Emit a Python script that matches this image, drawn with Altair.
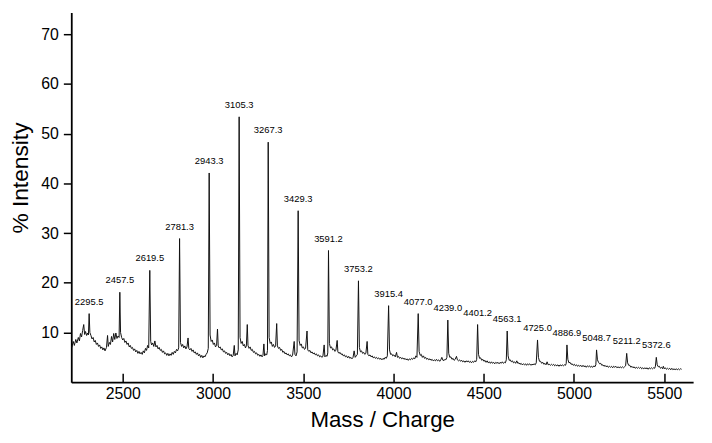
import altair as alt
import pandas as pd

# ---------------- data ----------------
x_ticks = [2500, 3000, 3500, 4000, 4500, 5000, 5500]
y_ticks = [10, 20, 30, 40, 50, 60, 70]

peak_labels = ["2295.5", "2457.5", "2619.5", "2781.3", "2943.3", "3105.3", "3267.3",
               "3429.3", "3591.2", "3753.2", "3915.4", "4077.0", "4239.0", "4401.2",
               "4563.1", "4725.0", "4886.9", "5048.7", "5211.2", "5372.6"]
peak_mz = [2314, 2484, 2650, 2815, 2979, 3145, 3306, 3472, 3640, 3806,
           3973, 4137, 4301, 4466, 4630, 4798, 4961, 5125, 5292, 5456]
peak_int = [13.8, 18.1, 22.5, 28.9, 42.1, 53.4, 48.3, 34.5, 26.5, 20.4,
            15.4, 13.8, 12.5, 11.6, 10.3, 8.5, 7.5, 6.5, 5.8, 5.0]

spectrum = [
    (2218, 7.0), (2226, 8.2), (2232, 7.4), (2240, 8.6), (2246, 7.9), (2254, 9.0), (2260, 8.3),
    (2266, 9.8), (2272, 9.1), (2278, 10.4), (2284, 11.6), (2289, 9.6), (2294, 10.2), (2300, 9.4),
    (2306, 9.9), (2310, 9.5), (2314, 13.8), (2318, 10.0), (2324, 9.4), (2330, 8.7), (2336, 9.0),
    (2342, 8.1), (2348, 8.4), (2354, 7.6), (2360, 7.9), (2366, 7.2), (2372, 7.5), (2378, 6.8),
    (2384, 7.1), (2390, 6.5), (2396, 6.9), (2402, 6.3), (2410, 7.0), (2416, 9.4), (2420, 7.2),
    (2426, 8.0), (2432, 7.6), (2438, 9.2), (2444, 8.1), (2450, 9.8), (2456, 8.6), (2462, 9.9),
    (2468, 8.8), (2474, 9.3), (2480, 9.0), (2484, 18.1), (2488, 10.0), (2494, 9.0), (2500, 8.5),
    (2506, 8.8), (2512, 8.0), (2518, 8.3), (2524, 7.6), (2530, 7.9), (2536, 7.1), (2542, 7.4),
    (2548, 6.8), (2554, 7.0), (2560, 6.4), (2566, 6.7), (2572, 6.1), (2578, 6.4), (2584, 5.8),
    (2590, 6.2), (2596, 5.7), (2602, 6.0), (2608, 5.6), (2614, 6.3), (2620, 5.9), (2626, 6.8),
    (2632, 6.4), (2638, 7.4), (2644, 6.9), (2650, 22.5), (2655, 8.2), (2660, 7.5), (2666, 7.9),
    (2672, 7.2), (2678, 8.3), (2684, 7.1), (2690, 7.4), (2696, 6.7), (2702, 7.0), (2708, 6.4),
    (2714, 6.6), (2720, 6.0), (2726, 6.3), (2732, 5.7), (2738, 5.9), (2744, 5.4), (2750, 5.8),
    (2756, 5.3), (2762, 5.7), (2768, 5.4), (2774, 6.0), (2780, 5.6), (2786, 6.2), (2792, 5.9),
    (2798, 6.6), (2804, 6.3), (2810, 6.9), (2815, 28.9), (2820, 8.0), (2826, 7.2), (2832, 7.6),
    (2838, 6.9), (2844, 7.3), (2850, 6.7), (2856, 7.1), (2862, 8.9), (2866, 6.8), (2872, 6.5),
    (2878, 6.8), (2884, 6.2), (2890, 6.5), (2896, 5.9), (2902, 6.1), (2908, 5.6), (2914, 5.9),
    (2920, 5.3), (2926, 5.6), (2932, 5.0), (2938, 5.4), (2944, 4.9), (2950, 5.3), (2956, 5.1),
    (2962, 5.6), (2968, 5.9), (2974, 6.8), (2979, 42.1), (2984, 9.5), (2990, 8.2), (2996, 8.5),
    (3002, 7.6), (3008, 7.9), (3014, 7.1), (3020, 7.4), (3025, 10.7), (3029, 7.3), (3034, 6.9),
    (3040, 7.1), (3046, 6.5), (3052, 6.7), (3058, 6.1), (3064, 6.3), (3070, 5.8), (3076, 6.0),
    (3082, 5.5), (3088, 5.8), (3094, 5.3), (3100, 5.6), (3106, 5.1), (3112, 5.4), (3118, 7.4),
    (3122, 5.3), (3128, 5.8), (3134, 5.5), (3140, 6.5), (3145, 53.4), (3150, 9.0), (3156, 7.8),
    (3162, 8.2), (3168, 7.3), (3174, 7.6), (3180, 6.9), (3185, 7.3), (3190, 11.6), (3194, 7.4),
    (3200, 6.8), (3206, 7.1), (3212, 6.4), (3218, 6.6), (3224, 6.0), (3230, 6.2), (3236, 5.7),
    (3242, 5.9), (3248, 5.4), (3254, 5.6), (3260, 5.2), (3266, 5.5), (3272, 5.1), (3277, 5.4),
    (3282, 7.7), (3286, 5.3), (3292, 5.7), (3298, 5.5), (3302, 6.4), (3306, 48.3), (3311, 9.0),
    (3317, 7.8), (3323, 8.1), (3329, 7.2), (3335, 7.6), (3341, 7.0), (3347, 7.3), (3353, 11.8),
    (3357, 7.3), (3363, 6.8), (3369, 7.0), (3375, 6.4), (3381, 6.6), (3387, 6.0), (3393, 6.2),
    (3399, 5.7), (3405, 5.9), (3411, 5.5), (3417, 5.7), (3423, 5.3), (3429, 5.5), (3435, 5.1),
    (3441, 5.4), (3450, 8.2), (3454, 5.6), (3460, 5.3), (3466, 6.1), (3472, 34.5), (3477, 8.4),
    (3483, 7.4), (3489, 7.7), (3495, 6.9), (3501, 7.1), (3507, 6.6), (3513, 6.8), (3521, 10.3),
    (3525, 6.5), (3531, 6.2), (3537, 6.4), (3543, 5.9), (3549, 6.1), (3555, 5.7), (3561, 5.9),
    (3567, 5.5), (3573, 5.7), (3579, 5.3), (3585, 5.5), (3591, 5.1), (3597, 5.3), (3603, 5.0),
    (3609, 5.2), (3616, 7.5), (3620, 5.1), (3626, 5.4), (3632, 5.2), (3636, 5.9), (3640, 26.5),
    (3645, 7.8), (3651, 6.9), (3657, 7.1), (3663, 6.5), (3669, 6.7), (3675, 6.2), (3681, 6.4),
    (3688, 8.4), (3692, 6.1), (3698, 5.8), (3704, 6.0), (3710, 5.6), (3716, 5.7), (3722, 5.3),
    (3728, 5.5), (3734, 5.1), (3740, 5.3), (3746, 4.9), (3752, 5.2), (3758, 4.8), (3764, 5.0),
    (3770, 4.7), (3776, 5.0), (3782, 6.3), (3788, 5.0), (3794, 5.3), (3800, 5.6), (3806, 20.4),
    (3811, 7.0), (3817, 6.1), (3823, 6.3), (3829, 5.8), (3835, 6.0), (3841, 5.6), (3847, 5.8),
    (3854, 8.2), (3858, 5.6), (3864, 5.3), (3870, 5.5), (3876, 5.1), (3882, 5.3), (3888, 4.9),
    (3894, 5.1), (3900, 4.8), (3906, 5.0), (3912, 4.7), (3918, 4.9), (3924, 4.6), (3930, 4.8),
    (3936, 4.5), (3942, 4.8), (3948, 4.6), (3954, 5.0), (3960, 4.8), (3966, 5.3), (3973, 15.4),
    (3978, 6.5), (3984, 5.6), (3990, 5.7), (3996, 5.3), (4002, 5.5), (4010, 5.1), (4017, 6.0),
    (4022, 5.0), (4028, 5.2), (4034, 4.8), (4040, 5.0), (4046, 4.7), (4052, 4.9), (4058, 4.6),
    (4064, 4.8), (4070, 4.5), (4076, 4.7), (4082, 4.4), (4088, 4.7), (4094, 4.5), (4100, 4.8),
    (4106, 4.6), (4112, 4.9), (4118, 4.7), (4124, 5.3), (4130, 5.0), (4137, 13.8), (4142, 6.2),
    (4148, 5.4), (4154, 5.6), (4160, 5.0), (4166, 5.3), (4172, 4.8), (4178, 5.0), (4184, 4.6),
    (4190, 4.8), (4196, 4.5), (4202, 4.7), (4208, 4.4), (4214, 4.6), (4220, 4.3), (4226, 4.5),
    (4232, 4.3), (4238, 4.6), (4244, 4.3), (4250, 4.5), (4256, 4.2), (4262, 4.5), (4268, 5.0),
    (4274, 4.4), (4280, 4.4), (4286, 4.6), (4290, 4.5), (4296, 5.0), (4301, 12.5), (4306, 5.8),
    (4312, 5.0), (4318, 5.1), (4324, 4.6), (4330, 4.8), (4336, 4.4), (4342, 4.6), (4349, 5.2),
    (4354, 4.5), (4360, 4.3), (4366, 4.5), (4372, 4.2), (4378, 4.4), (4384, 4.1), (4390, 4.3),
    (4396, 4.0), (4402, 4.3), (4408, 4.1), (4414, 4.3), (4420, 4.0), (4426, 4.2), (4432, 3.9),
    (4438, 4.2), (4444, 4.0), (4450, 4.3), (4456, 4.1), (4461, 4.6), (4466, 11.6), (4471, 5.6),
    (4477, 4.8), (4483, 4.9), (4489, 4.4), (4495, 4.6), (4501, 4.2), (4507, 4.4), (4513, 4.0),
    (4519, 4.3), (4525, 3.9), (4531, 4.1), (4537, 3.8), (4543, 4.1), (4549, 3.8), (4555, 4.0),
    (4561, 3.7), (4567, 4.0), (4573, 3.8), (4579, 4.0), (4585, 3.7), (4591, 4.0), (4597, 3.8),
    (4603, 4.1), (4609, 3.8), (4615, 4.0), (4620, 3.9), (4625, 4.5), (4630, 10.3), (4635, 5.3),
    (4641, 4.4), (4647, 4.5), (4653, 4.1), (4659, 4.3), (4665, 3.9), (4671, 4.1), (4677, 3.8),
    (4683, 4.3), (4689, 3.8), (4695, 3.9), (4701, 3.6), (4707, 3.8), (4713, 3.5), (4719, 3.7),
    (4725, 3.5), (4731, 3.7), (4737, 3.4), (4743, 3.7), (4749, 3.5), (4755, 3.7), (4761, 3.4),
    (4767, 3.6), (4773, 3.5), (4779, 3.7), (4785, 3.5), (4791, 3.9), (4798, 8.5), (4803, 5.0),
    (4809, 4.2), (4815, 4.2), (4821, 3.8), (4827, 4.0), (4833, 3.6), (4839, 3.8), (4845, 3.5),
    (4851, 4.1), (4857, 3.5), (4863, 3.6), (4869, 3.4), (4875, 3.6), (4881, 3.4), (4887, 3.6),
    (4893, 3.3), (4899, 3.5), (4905, 3.3), (4911, 3.5), (4917, 3.2), (4923, 3.5), (4929, 3.3),
    (4935, 3.5), (4941, 3.3), (4947, 3.5), (4953, 3.4), (4957, 3.8), (4961, 7.5), (4966, 4.6),
    (4972, 3.9), (4978, 4.0), (4984, 3.6), (4990, 3.7), (4996, 3.4), (5002, 3.6), (5008, 3.3),
    (5014, 3.5), (5020, 3.2), (5026, 3.4), (5032, 3.2), (5038, 3.4), (5044, 3.1), (5050, 3.4),
    (5056, 3.1), (5062, 3.3), (5068, 3.0), (5074, 3.3), (5080, 3.1), (5086, 3.3), (5092, 3.0),
    (5098, 3.2), (5104, 3.0), (5110, 3.3), (5116, 3.1), (5121, 3.5), (5125, 6.5), (5130, 4.5),
    (5136, 4.0), (5142, 3.7), (5148, 3.8), (5154, 3.4), (5160, 3.5), (5166, 3.2), (5172, 3.4),
    (5178, 3.1), (5184, 3.3), (5190, 3.0), (5196, 3.2), (5202, 3.0), (5208, 3.2), (5214, 2.9),
    (5220, 3.2), (5226, 3.0), (5232, 3.2), (5238, 2.9), (5244, 3.1), (5250, 2.9), (5256, 3.1),
    (5262, 2.9), (5268, 3.1), (5274, 2.9), (5280, 3.1), (5286, 3.3), (5292, 5.8), (5297, 3.9),
    (5303, 3.4), (5309, 3.4), (5315, 3.0), (5321, 3.2), (5327, 2.9), (5333, 3.1), (5339, 2.8),
    (5345, 3.0), (5351, 2.8), (5357, 3.0), (5363, 2.8), (5369, 3.0), (5375, 2.7), (5381, 2.9),
    (5387, 2.7), (5393, 2.9), (5399, 2.7), (5405, 2.9), (5411, 2.6), (5417, 2.9), (5423, 2.7),
    (5429, 2.9), (5435, 2.7), (5441, 2.9), (5447, 2.8), (5451, 3.2), (5456, 5.0), (5461, 3.5),
    (5467, 3.1), (5473, 3.2), (5479, 2.8), (5485, 3.0), (5491, 2.7), (5495, 3.2), (5500, 2.7),
    (5506, 2.9), (5512, 2.6), (5518, 2.8), (5524, 2.6), (5530, 2.8), (5536, 2.5), (5542, 2.8),
    (5548, 2.5), (5554, 2.7), (5560, 2.5), (5566, 2.7), (5572, 2.5), (5578, 2.7), (5584, 2.5),
    (5590, 2.7), (5596, 2.6),
]

# ---------------- chart ----------------
spec_df = pd.DataFrame(spectrum, columns=["mz", "intensity"])
peaks_df = pd.DataFrame({"mz": peak_mz, "intensity": peak_int, "label": peak_labels})

W, H = 629, 374
FONT = "Liberation Sans"
xscale = alt.Scale(domain=[2215, 5660], nice=False, zero=False)
yscale = alt.Scale(domain=[0, 74.4], nice=False, zero=False)

# x ticks point up into the plot: negative tick size passed as an expression
x_axis = alt.Axis(values=x_ticks, ticks=True, tickSize=alt.ExprRef("-9"), tickWidth=1.5,
                  tickColor="black", labelPadding=12,
                  labelFontSize=16, titleFontSize=22.5, titleY=45,
                  titleBaseline="alphabetic", format="d")
y_axis = alt.Axis(values=y_ticks, tickSize=8, tickWidth=1.5, tickColor="black",
                  labelPadding=5, labelFontSize=16, titleFontSize=23, titleAngle=270,
                  titleX=-51, titleY=167, titleAlign="center", titleBaseline="middle")

line = alt.Chart(spec_df).mark_line(color="#111111", strokeWidth=1).encode(
    x=alt.X("mz:Q", scale=xscale, title="Mass / Charge", axis=x_axis),
    y=alt.Y("intensity:Q", scale=yscale, title="% Intensity", axis=y_axis),
)

labels = alt.Chart(peaks_df).mark_text(
    font=FONT, fontSize=9.5, color="black", dy=-7, baseline="bottom", align="center"
).encode(
    x=alt.X("mz:Q", scale=xscale, title="Mass / Charge"),
    y=alt.Y("intensity:Q", scale=yscale, title="% Intensity"),
    text="label:N",
)

chart = alt.layer(line, labels).properties(
    width=W, height=H,
    autosize=alt.AutoSizeParams(type="none"),
    padding={"left": 64, "top": 2, "right": 11, "bottom": 59},
    background="white",
).configure_view(stroke=None).configure_axis(
    grid=False, domainColor="black", domainWidth=1.8,
    labelFont=FONT, labelColor="black", titleFont=FONT, titleColor="black",
    titleFontWeight="normal",
)

chart.save("out.html", embed_options={"renderer": "svg", "actions": False})
